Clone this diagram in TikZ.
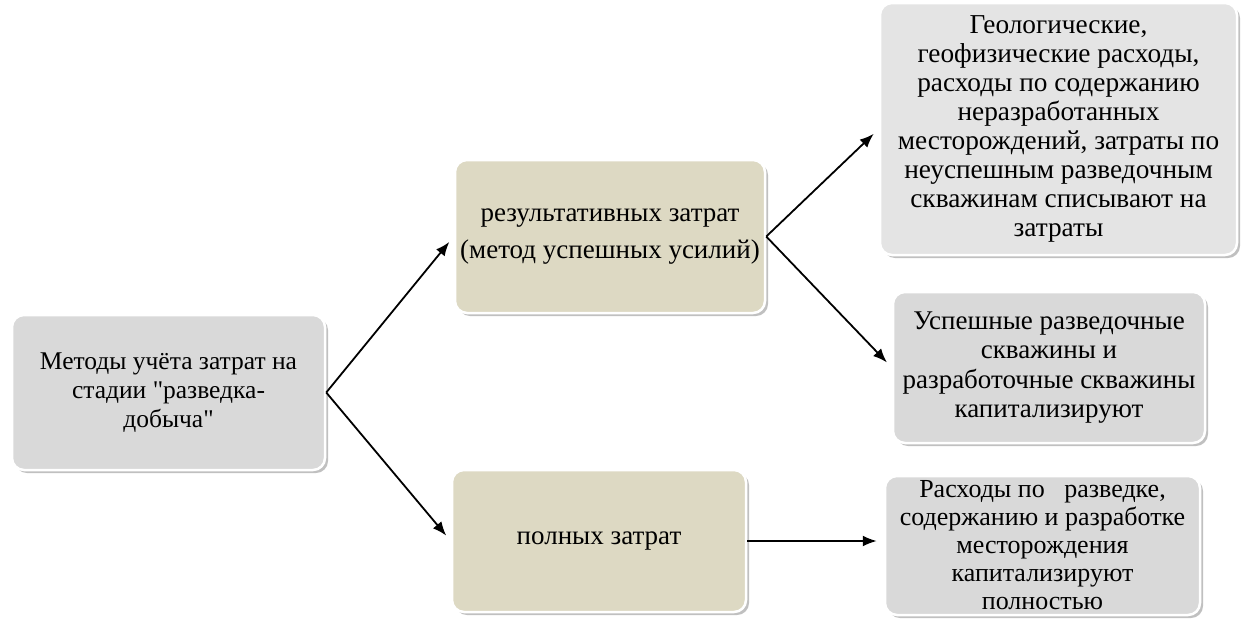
\documentclass[tikz,border=0pt]{standalone}
\usepackage{fontspec}
\setmainfont{Liberation Serif}[Ligatures=TeXOff]
\usetikzlibrary{shadows,arrows.meta}
\definecolor{boxgray}{HTML}{D9D9D9}
\definecolor{boxlight}{HTML}{E4E4E4}
\definecolor{boxtan}{HTML}{DDD9C3}
\begin{document}
\begin{tikzpicture}[x=1pt,y=-1pt,
 box/.style={draw=white, line width=2.5pt, rounded corners=12pt, align=center, inner sep=0pt,
   font=\fontsize{27}{29}\selectfont,
   drop shadow={shadow xshift=3pt, shadow yshift=-3pt, opacity=0.35, fill=black!70}},
 graybox/.style={box, fill=boxgray},
 lightbox/.style={box, fill=boxlight},
 tanbox/.style={box, fill=boxtan},
 conn/.style={-{Latex[length=14pt,width=11pt]}, line width=1.8pt, shorten >=7pt}
]
\useasboundingbox[fill=white] (0,0) rectangle (1241,627);

\node[graybox, minimum width=313pt, minimum height=155pt, font=\fontsize{25.5}{29}\selectfont] (A) at (168.5,392.5)
  {Методы учёта затрат на\\стадии "разведка-\\добыча"};
\node[tanbox, minimum width=310pt, minimum height=153pt, font=\fontsize{27}{37}\selectfont] (B) at (610,236.5)
  {результативных затрат\\(метод успешных усилий)};
\node[tanbox, minimum width=294pt, minimum height=142pt] (C) at (599,541)
  {\raisebox{-5pt}{полных затрат}};
\node[lightbox, minimum width=357pt, minimum height=252pt, font=\fontsize{27.3}{29}\selectfont] (D) at (1058.5,129)
  {Геологические,\\геофизические расходы,\\расходы по содержанию\\неразработанных\\месторождений, затраты по\\неуспешным разведочным\\скважинам списывают на\\затраты};
\node[graybox, minimum width=312pt, minimum height=151pt, font=\fontsize{27}{29.5}\selectfont] (E) at (1049,367.5)
  {Успешные разведочные\\скважины и\\разработочные скважины\\капитализируют};
\node[graybox, minimum width=315pt, minimum height=139pt, font=\fontsize{26}{28}\selectfont] (F) at (1042.5,545.5)
  {Расходы по \ \ разведке,\\содержанию и разработке\\месторождения\\капитализируют\\полностью};

\draw[conn] (A.east) -- (B.west);
\draw[conn] (A.east) -- (C.west);
\draw[conn] (B.east) -- (D.west);
\draw[conn] (B.east) -- (E.west);
\draw[conn] (C.east) -- (C.east -| F.west);
\end{tikzpicture}
\end{document}
